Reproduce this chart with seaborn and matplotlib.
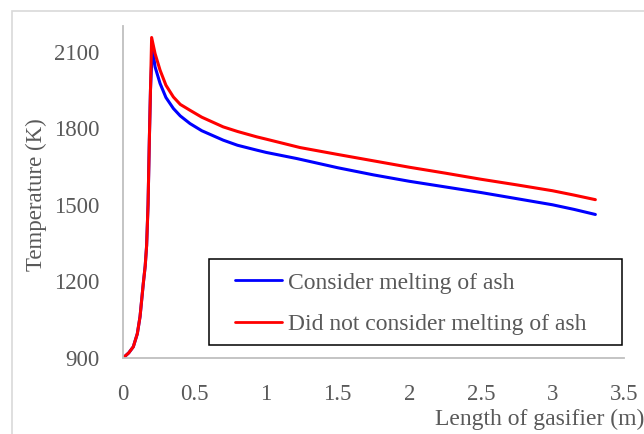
import numpy as np
import pandas as pd
import matplotlib
matplotlib.use("Agg")
import matplotlib.pyplot as plt
import seaborn as sns
from matplotlib.patches import Rectangle

# ---- data ----
rise_x = [0.0, 0.04, 0.072, 0.1, 0.119, 0.142, 0.155, 0.165, 0.175, 0.184, 0.192]
rise_t = [900, 920, 944, 995, 1062, 1193, 1260, 1340, 1500, 1753, 1950]

blue_x = rise_x + [0.205, 0.224, 0.259, 0.3, 0.352, 0.4, 0.468, 0.55, 0.7, 0.8, 0.934,
                   1.0, 1.214, 1.5, 1.75, 2.0, 2.25, 2.5, 2.75, 3.0, 3.15, 3.3]
blue_t = rise_t + [2118, 2040, 1975, 1920, 1877, 1848, 1818, 1790, 1753, 1733, 1714,
                   1705, 1681, 1645, 1617, 1592, 1570, 1548, 1524, 1500, 1482, 1462]

red_x = rise_x + [0.2, 0.224, 0.259, 0.3, 0.352, 0.4, 0.468, 0.55, 0.7, 0.8, 0.934,
                  1.0, 1.237, 1.5, 1.75, 2.0, 2.25, 2.5, 2.75, 3.0, 3.15, 3.3]
red_t = rise_t + [2155, 2092, 2027, 1968, 1922, 1893, 1870, 1843, 1805, 1787, 1766,
                  1757, 1724, 1697, 1672, 1647, 1624, 1600, 1578, 1555, 1538, 1520]

series_names = ["Consider melting of ash", "Did not consider melting of ash"]
colors = ["#0000FF", "#FF0000"]
xtick_vals = [0, 0.5, 1, 1.5, 2, 2.5, 3, 3.5]
xtick_labels = ["0", "0.5", "1", "1.5", "2", "2.5", "3", "3.5"]
ytick_vals = [900, 1200, 1500, 1800, 2100]

df = pd.concat([
    pd.DataFrame({"x": blue_x, "T": blue_t, "series": series_names[0]}),
    pd.DataFrame({"x": red_x, "T": red_t, "series": series_names[1]}),
], ignore_index=True)

sns.set_style("white")
plt.rcParams["font.family"] = ["Liberation Serif", "DejaVu Serif"]

fig = plt.figure(figsize=(6.44, 4.34), dpi=100)
ax = fig.add_axes([123 / 644, 1 - 358 / 434, 501 / 644, 332 / 434])

sns.lineplot(data=df, x="x", y="T", hue="series", palette=colors,
             hue_order=series_names, sort=False, estimator=None,
             linewidth=2.2, ax=ax)

ax.set_xlim(0, 3.5)
ax.set_ylim(900, 2200)
ax.set_xticks(xtick_vals)
ax.set_xticklabels(xtick_labels)
ax.set_yticks(ytick_vals)
txtcol = "#595959"
fs = 16.5
ax.tick_params(axis="both", length=0, labelsize=fs, colors=txtcol)
ax.tick_params(axis="x", pad=19)
ax.tick_params(axis="y", pad=17)

for s in ["top", "right"]:
    ax.spines[s].set_visible(False)
for s in ["left", "bottom"]:
    ax.spines[s].set_color("#BFBFBF")
    ax.spines[s].set_linewidth(1.3)

ax.set_xlabel("")
ax.set_ylabel("")
fig.text(36 / 644, 1 - 195 / 434, "Temperature (K)", rotation=90, ha="center",
         va="center", fontsize=fs, color=txtcol)
fig.text(644 / 644, 1 - 419 / 434, "Length of gasifier (m)", ha="right", va="center",
         fontsize=fs + 0.5, color=txtcol)

# legend box
ax.add_patch(Rectangle((86 / 501, 13 / 332), 413 / 501, 86 / 332, transform=ax.transAxes,
                       fill=False, edgecolor="black", linewidth=1.1, zorder=5))
leg = ax.legend(loc="upper left", bbox_to_anchor=((235 - 123) / 501, (358 - 272) / 332),
                fontsize=17, frameon=False, handlelength=2.0, handletextpad=0.25,
                labelspacing=0.85, borderpad=0, borderaxespad=0, labelcolor=txtcol)
for h in leg.get_lines():
    h.set_linewidth(2.0)

fig.patches.append(Rectangle((12 / 644, -0.1), 1.2, 1 - 11 / 434 + 0.1,
                             transform=fig.transFigure, fill=False,
                             edgecolor="#D9D9D9", linewidth=1.2))

fig.savefig("out.png", dpi=100)
